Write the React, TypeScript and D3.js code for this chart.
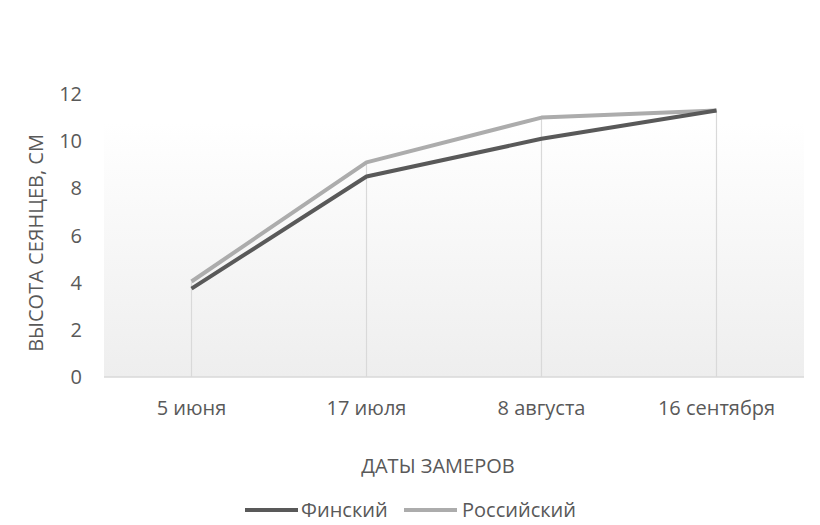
import { useEffect, useRef } from "react"
import * as d3 from "d3"

const categories = ["5 июня", "17 июля", "8 августа", "16 сентября"]
const finnish = [3.75, 8.5, 10.1, 11.3]
const russian = [4.05, 9.1, 11.0, 11.3]
const yTicks = [0, 2, 4, 6, 8, 10, 12]

const series = [
  { name: "Финский", values: finnish, color: "#595959" },
  { name: "Российский", values: russian, color: "#acacac" },
]

const App = () => {
  const svgRef = useRef<SVGSVGElement>(null)

  useEffect(() => {
    const svg = d3.select(svgRef.current)
    svg.selectAll("*").remove()

    const width = 820
    const height = 525
    const left = 104
    const right = 804
    const top = 94
    const bottom = 377
    const font = "'Open Sans', 'Liberation Sans', sans-serif"
    const fontSize = "20px"
    const textColor = "#595959"

    svg.attr("width", width).attr("height", height)

    const x = d3.scaleBand<string>().domain(categories).range([left, right])
    const y = d3.scaleLinear().domain([0, 12]).range([bottom, top])
    const cx = (c: string) => (x(c) ?? 0) + x.bandwidth() / 2

    // background gradient
    const grad = svg
      .append("defs")
      .append("linearGradient")
      .attr("id", "bg")
      .attr("x1", 0)
      .attr("y1", 0)
      .attr("x2", 0)
      .attr("y2", 1)
    grad.append("stop").attr("offset", "10%").attr("stop-color", "#ffffff")
    grad.append("stop").attr("offset", "100%").attr("stop-color", "#eeeeee")

    svg
      .append("rect")
      .attr("x", left)
      .attr("y", top)
      .attr("width", right - left)
      .attr("height", bottom - top)
      .attr("fill", "url(#bg)")

    // drop lines
    categories.forEach((c, i) => {
      const maxV = d3.max(series, (s) => s.values[i]) ?? 0
      svg
        .append("line")
        .attr("x1", cx(c))
        .attr("x2", cx(c))
        .attr("y1", y(maxV))
        .attr("y2", y(0))
        .attr("stroke", "#d9d9d9")
        .attr("stroke-width", 1.2)
    })

    // x axis line
    svg
      .append("line")
      .attr("x1", left)
      .attr("x2", right)
      .attr("y1", y(0))
      .attr("y2", y(0))
      .attr("stroke", "#d9d9d9")
      .attr("stroke-width", 1.5)

    // y tick labels
    svg
      .selectAll(".ytick")
      .data(yTicks)
      .enter()
      .append("text")
      .attr("x", 82)
      .attr("y", (d) => y(d))
      .attr("dy", "0.35em")
      .attr("text-anchor", "end")
      .style("font-family", font)
      .style("font-size", fontSize)
      .style("fill", textColor)
      .text((d) => d)

    // x tick labels
    svg
      .selectAll(".xtick")
      .data(categories)
      .enter()
      .append("text")
      .attr("x", (d) => cx(d))
      .attr("y", 408)
      .attr("dy", "0.35em")
      .attr("text-anchor", "middle")
      .style("font-family", font)
      .style("font-size", fontSize)
      .style("fill", textColor)
      .text((d) => d)

    // lines
    const line = d3
      .line<number>()
      .x((_, i) => cx(categories[i]))
      .y((d) => y(d))

    series
      .slice()
      .reverse()
      .forEach((s) => {
        svg
          .append("path")
          .datum(s.values)
          .attr("d", line)
          .attr("fill", "none")
          .attr("stroke", s.color)
          .attr("stroke-width", 4)
          .attr("stroke-linejoin", "round")
      })

    // axis titles
    svg
      .append("text")
      .attr("x", 438)
      .attr("y", 466)
      .attr("dy", "0.35em")
      .attr("text-anchor", "middle")
      .style("font-family", font)
      .style("font-size", fontSize)
      .style("fill", textColor)
      .text("ДАТЫ ЗАМЕРОВ")

    svg
      .append("text")
      .attr("transform", `translate(36,243) rotate(-90)`)
      .attr("dy", "0.35em")
      .attr("text-anchor", "middle")
      .style("font-family", font)
      .style("font-size", fontSize)
      .style("fill", textColor)
      .text("ВЫСОТА СЕЯНЦЕВ, СМ")

    // legend
    const legendX = [245, 404]
    series.forEach((s, i) => {
      const lg = svg.append("g").attr("transform", `translate(${legendX[i]},510)`)
      lg.append("line")
        .attr("x1", 0)
        .attr("x2", 53)
        .attr("stroke", s.color)
        .attr("stroke-width", 4)
      lg.append("text")
        .attr("x", i === 0 ? 56 : 58)
        .attr("dy", "0.35em")
        .style("font-family", font)
        .style("font-size", fontSize)
        .style("fill", textColor)
        .text(s.name)
    })
  }, [])

  return (
    <div style={{ position: "absolute", left: 0, top: 0 }}>
      <svg ref={svgRef} style={{ display: "block" }}></svg>
    </div>
  )
}

export default App
